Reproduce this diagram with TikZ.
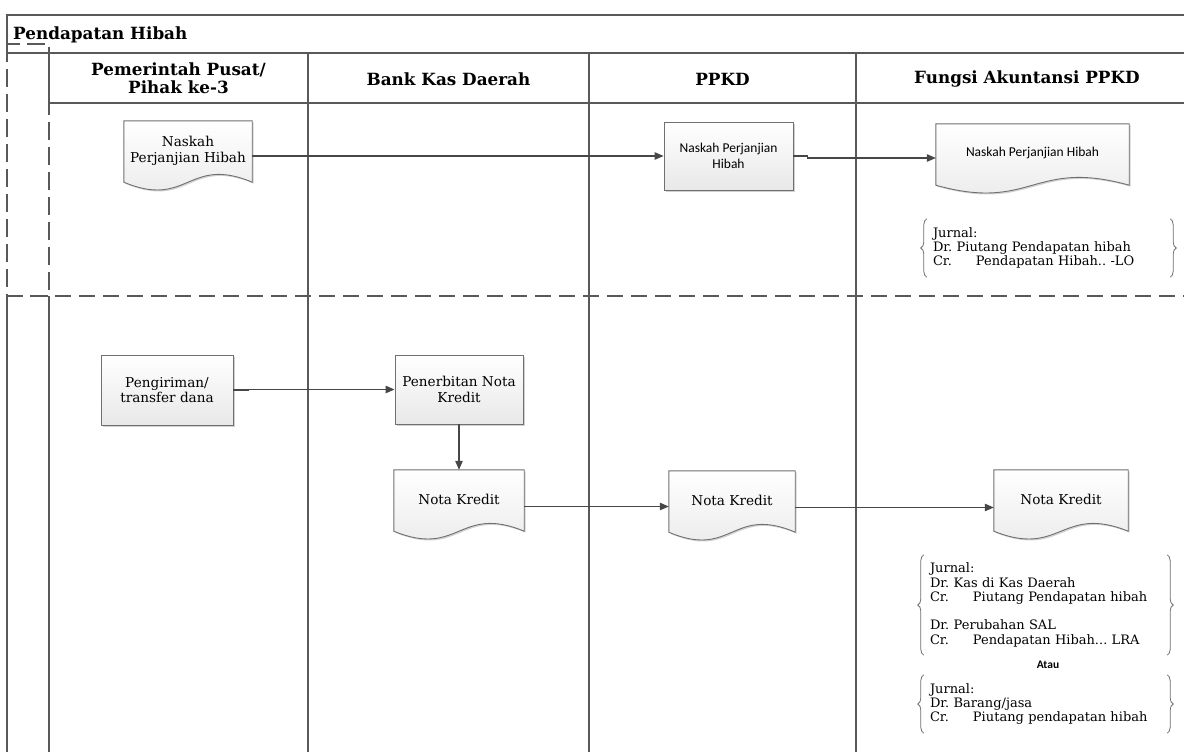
\documentclass[tikz,border=0pt]{standalone}
\usepackage{fontspec}
\setmainfont{DejaVu Serif}
\newfontfamily\uifont{Carlito}
\usetikzlibrary{arrows.meta,calc,shadows,decorations.pathreplacing,backgrounds}

\definecolor{lanegray}{HTML}{595959}
\definecolor{boxgray}{HTML}{707070}
\definecolor{arrowgray}{HTML}{474747}
\definecolor{bracegray}{HTML}{6E6E6E}

\newcommand\bodyfont{\fontsize{13.6}{15.5}\selectfont}
\newcommand\jfont{\frenchspacing\fontsize{13}{14.3}\selectfont}
\newcommand\headfont{\fontsize{16.8}{18.5}\selectfont\bfseries}
\newcommand\uitext{\uifont\fontsize{13.5}{16}\selectfont}

\begin{document}
\begin{tikzpicture}[x=1pt,y=-1pt,
  lane/.style={draw=lanegray,line width=1.4pt},
  sepline/.style={draw=lanegray,line width=1.8pt,dash pattern=on 16pt off 8pt},
  shapeshadow/.style={drop shadow={shadow xshift=1.5pt,shadow yshift=-1.5pt,fill=black,opacity=0.18}},
  procbox/.style={draw=boxgray,line width=0.9pt,top color=white,bottom color=black!9,
                  shapeshadow,align=center,inner sep=2pt,font=\bodyfont},
  docnode/.style={align=center,inner sep=2pt,font=\bodyfont},
  docline/.style={draw=boxgray,line width=0.9pt,top color=white,bottom color=black!9,shapeshadow},
  flow/.style={draw=arrowgray,line width=1.1pt,-{Triangle[length=9pt,width=7.5pt]}},
  jnode/.style={align=left,text width=231pt,inner xsep=6pt,font=\jfont},
  jbrace/.style={draw=bracegray,line width=0.8pt,decorate,decoration={brace,amplitude=6pt}},
  lanehead/.style={font=\headfont,align=center}
]
\useasboundingbox (0,0) rectangle (1184,752);

% frame, header row and swimlanes
\draw[lane] (1184,15) -- (7,15) -- (7,44);
\draw[lane] (7,296) -- (7,752);
\draw[lane] (7,53) -- (1184,53);
\draw[lane] (49,103) -- (1184,103);
\draw[lane] (49,53) -- (49,103);
\draw[lane] (49,296) -- (49,752);
\foreach \x in {308,589,856} \draw[lane] (\x,53) -- (\x,752);
\draw[sepline] (7,296) -- (1184,296);
\draw[sepline,line width=1.4pt,dash pattern=on 18pt off 7pt] (7,44) rectangle (49,296);

% titles
\node[font=\headfont,anchor=west,inner sep=0pt] (title) at (13,35) {Pendapatan Hibah};
\node[lanehead] (hPusat) at (178.5,78) {Pemerintah Pusat/\\Pihak ke-3};
\node[lanehead] (hBank) at (448.5,79) {Bank Kas Daerah};
\node[lanehead] (hPPKD) at (722.5,79) {PPKD};
\node[lanehead] (hAkun) at (1027,79) {Fungsi Akuntansi PPKD};

% phase 1: grant agreement
\node[docnode,minimum width=128pt,minimum height=61pt] (naskahA) at (188,151.5)
  {\raisebox{3pt}{\begin{tabular}{@{}c@{}}Naskah\\Perjanjian Hibah\end{tabular}}};
\node[procbox,minimum width=129pt,minimum height=68pt,font=\uitext] (naskahB) at (728.5,156)
  {Naskah Perjanjian\\Hibah};
\node[docnode,minimum width=193pt,minimum height=61pt,font=\uitext] (naskahC) at (1032.5,154.5)
  {\raisebox{5pt}{Naskah Perjanjian Hibah}};

\node[jnode,minimum height=58pt] (jurnalA) at (1048.5,248)
  {Jurnal:\\Dr. Piutang Pendapatan hibah\\\makebox[43pt][l]{Cr.}Pendapatan Hibah.. -LO};

% phase 2: transfer of funds
\node[procbox,minimum width=132pt,minimum height=70pt] (kirim) at (167,390) {Pengiriman/\\transfer dana};
\node[procbox,minimum width=128pt,minimum height=69pt] (terbit) at (459,389.5) {Penerbitan Nota\\Kredit};
\node[docnode,minimum width=130pt,minimum height=61pt] (notaA) at (459,500.5) {\raisebox{2pt}{Nota Kredit}};
\node[docnode,minimum width=126pt,minimum height=61pt] (notaB) at (732,501.5) {\raisebox{2pt}{Nota Kredit}};
\node[docnode,minimum width=134pt,minimum height=61pt] (notaC) at (1061,500.5) {\raisebox{2pt}{Nota Kredit}};

\node[jnode,minimum height=100pt] (jurnalB) at (1045.5,605)
  {Jurnal:\\Dr. Kas di Kas Daerah\\\makebox[43pt][l]{Cr.}Piutang Pendapatan hibah\\[14pt]
   Dr. Perubahan SAL\\\makebox[43pt][l]{Cr.}Pendapatan Hibah... LRA};
\node[font=\uifont\bfseries\fontsize{11.5}{13}\selectfont] (atau) at (1048,665) {Atau};
\node[jnode,minimum height=58pt] (jurnalC) at (1045.5,704)
  {Jurnal:\\Dr. Barang/jasa\\\makebox[43pt][l]{Cr.}Piutang pendapatan hibah};

% document outlines with wavy bottom edge
\begin{scope}[on background layer]
\foreach \d in {naskahA,naskahC,notaA,notaB,notaC}{
  \path[docline] (\d.north west) -- (\d.north east) -- (\d.south east)
    .. controls ($(\d.south)+(0,-27)$) and ($(\d.south)+(0,27)$) .. (\d.south west) -- cycle;
}
\end{scope}

% journal braces
\foreach \j in {jurnalA,jurnalB,jurnalC}{
  \draw[jbrace] (\j.south west) -- (\j.north west);
  \draw[jbrace] (\j.north east) -- (\j.south east);
}

% flows
\draw[flow] (naskahB.west -| naskahA.east) -- (naskahB.west);
\coordinate (jogA) at ($(naskahB.east)+(14,2)$);
\draw[flow] (naskahB.east) -- (naskahB.east -| jogA) -- (jogA) -- (jogA -| naskahC.west);
\draw[flow] (kirim.east) -- ++(15,0) |- (terbit.west);
\draw[flow] (terbit.south) -- (notaA.north);
\coordinate (outA) at ([yshift=-6pt]notaA.east);
\draw[flow] (outA) -- (outA -| notaB.west);
\coordinate (outB) at ([yshift=-6pt]notaB.east);
\draw[flow] (outB) -- (outB -| notaC.west);
\end{tikzpicture}
\end{document}
